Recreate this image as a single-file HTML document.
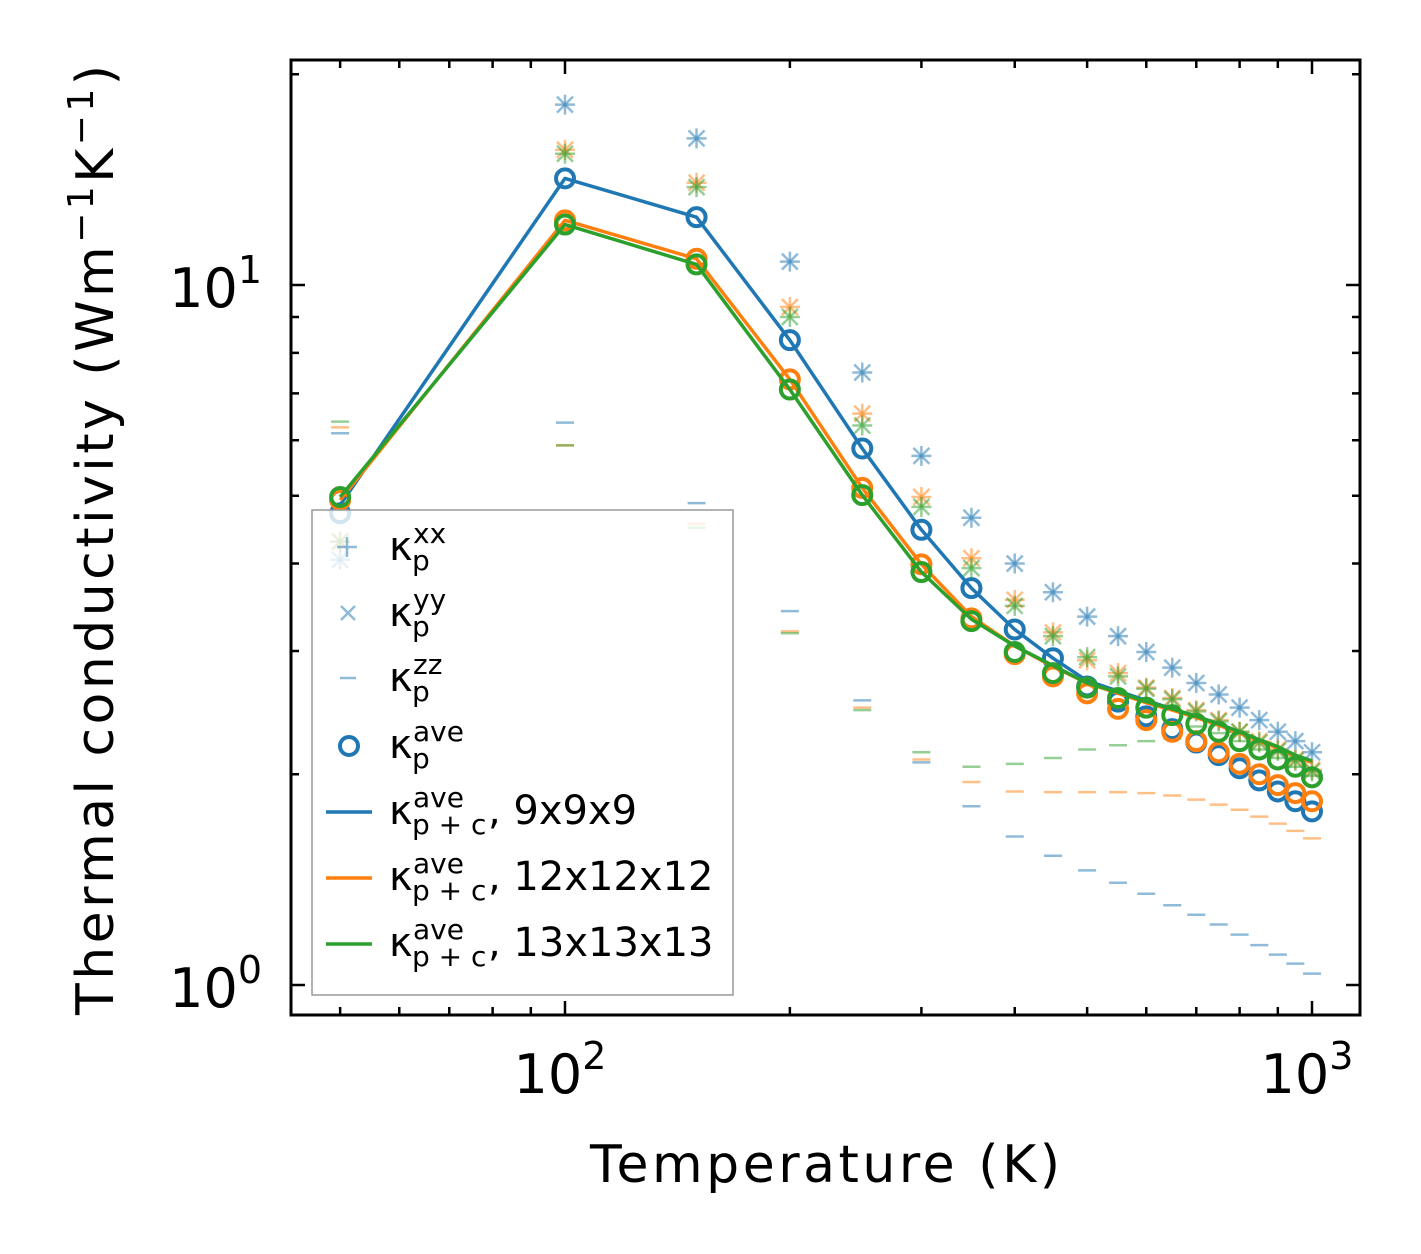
<!DOCTYPE html>
<html><head><meta charset="utf-8"><style>
body{margin:0;background:#fff}
svg{display:block;font-family:"DejaVu Sans","Liberation Sans",sans-serif}
</style></head><body>
<svg id="chart" width="1421" height="1254" viewBox="0 0 1421 1254">
<rect x="0" y="0" width="1421" height="1254" fill="#fff"/>
<g id="plot"></g>
<g id="axes"></g>
</svg>
<script>
const temps = [50,100,150,200,250,300,350,400,450,500,550,600,650,700,750,800,850,900,950,1000];
// kappa_p^ave circles per mesh
const aveBlue   = [4.72,14.2,12.5,8.34,5.84,4.47,3.69,3.22,2.93,2.67,2.54,2.42,2.32,2.22,2.13,2.04,1.96,1.89,1.83,1.77];
const aveOrange = [4.93,12.37,10.9,7.33,5.13,3.99,3.34,2.97,2.76,2.61,2.48,2.39,2.30,2.23,2.15,2.07,2.00,1.93,1.88,1.83];
const aveGreen  = [4.98,12.2,10.7,7.09,5.01,3.89,3.31,2.99,2.79,2.66,2.57,2.49,2.43,2.36,2.30,2.23,2.17,2.10,2.05,1.98];
// kappa_p+c^ave lines
const pcBlue   = [4.85,14.2,12.5,8.34,5.84,4.47,3.69,3.22,2.93,2.72,2.63,2.55,2.48,2.42,2.36,2.30,2.24,2.18,2.12,2.08];
const pcOrange = [4.93,12.37,10.9,7.33,5.13,3.99,3.36,3.05,2.85,2.70,2.61,2.53,2.47,2.41,2.35,2.29,2.23,2.18,2.12,2.08];
const pcGreen  = [4.98,12.2,10.7,7.09,5.01,3.89,3.33,3.05,2.86,2.70,2.62,2.54,2.48,2.42,2.36,2.30,2.24,2.19,2.13,2.09];
// directional components
const xxBlue   = [4.05,18.1,16.2,10.8,7.5,5.7,4.65,4.0,3.64,3.36,3.15,2.99,2.84,2.70,2.60,2.49,2.39,2.30,2.23,2.15];
const xxOrange = [4.3,15.6,14.0,9.3,6.55,4.98,4.07,3.55,3.19,2.91,2.79,2.66,2.57,2.47,2.39,2.30,2.23,2.17,2.10,2.03];
const xxGreen  = [4.3,15.4,13.8,9.0,6.3,4.82,3.94,3.48,3.15,2.94,2.76,2.65,2.56,2.46,2.38,2.30,2.22,2.16,2.09,2.02];
const zzBlue   = [6.14,6.36,4.88,3.42,2.55,2.08,1.80,1.63,1.53,1.458,1.40,1.35,1.30,1.26,1.22,1.18,1.14,1.105,1.073,1.038];
const zzOrange = [6.26,5.9,4.56,3.2,2.49,2.10,1.95,1.89,1.886,1.886,1.886,1.88,1.865,1.84,1.81,1.78,1.74,1.70,1.66,1.62];
const zzGreen  = [6.38,5.9,4.5,3.18,2.47,2.15,2.05,2.07,2.11,2.17,2.20,2.23,2.25,2.34,2.29,2.23,2.17,2.11,2.05,1.99];
const xMajor = [100,1000];
const xMajorLabels = ["2","3"];
const xMinor = [50,60,70,80,90,200,300,400,500,600,700,800,900];
const yMajor = [1,10];
const yMajorLabels = ["0","1"];
const yMinor = [2,3,4,5,6,7,8,9,20];

const NS="http://www.w3.org/2000/svg";
const L=291,R=1360,T=60,B=1015;
const xs = v => 565 + 747*(Math.log10(v)-2);
const ys = v => 985 - 700*Math.log10(v);
function mk(tag,attrs,parent){const e=document.createElementNS(NS,tag);for(const k in attrs)e.setAttribute(k,attrs[k]);parent.appendChild(e);return e;}
const plot=document.getElementById('plot'), axes=document.getElementById('axes');
const C={b:'#1f77b4',o:'#ff7f0e',g:'#2ca02c'};

function plus(g,x,y,c,s){mk('path',{d:`M${x-s} ${y}H${x+s}M${x} ${y-s}V${y+s}`,stroke:c,'stroke-width':2.5,'stroke-opacity':0.5,fill:'none'},g);}
function cross(g,x,y,c,s){mk('path',{d:`M${x-s} ${y-s}L${x+s} ${y+s}M${x-s} ${y+s}L${x+s} ${y-s}`,stroke:c,'stroke-width':2.5,'stroke-opacity':0.5,fill:'none'},g);}
function dash(g,x,y,c,s){mk('path',{d:`M${x-s} ${y}H${x+s}`,stroke:c,'stroke-width':2.5,'stroke-opacity':0.5,fill:'none'},g);}

const clip=mk('clipPath',{id:'pc'},document.getElementById('chart'));
mk('rect',{x:L,y:T,width:R-L,height:B-T},clip);
plot.setAttribute('clip-path','url(#pc)');

[['b',xxBlue,zzBlue],['o',xxOrange,zzOrange],['g',xxGreen,zzGreen]].forEach(([k,xx,zz])=>{
  const g=mk('g',{},plot);
  
  
  temps.forEach((t,i)=>{plus(g,xs(t),ys(xx[i]),C[k],10);cross(g,xs(t),ys(xx[i]),C[k],8);dash(g,xs(t),ys(zz[i]),C[k],9);});
});
[['b',pcBlue,aveBlue],['o',pcOrange,aveOrange],['g',pcGreen,aveGreen]].forEach(([k,pc,av])=>{
  const p=mk('polyline',{points:temps.map((t,i)=>xs(t)+','+ys(pc[i])).join(' '),fill:'none',stroke:C[k],'stroke-width':3.5,'stroke-linejoin':'round'},plot);
  
  
  const g=mk('g',{},plot);
  
  
  temps.forEach((t,i)=>mk('circle',{cx:xs(t),cy:ys(av[i]),r:9,fill:'none',stroke:C[k],'stroke-width':4},g));
});

const fr=mk('rect',{x:L,y:T,width:R-L,height:B-T,fill:'none',stroke:'#000','stroke-width':3},axes);


let d='';
xMajor.forEach(v=>{const x=xs(v);d+=`M${x} ${B}v-14M${x} ${T}v14`;});
xMinor.forEach(v=>{const x=xs(v);d+=`M${x} ${B}v-8M${x} ${T}v8`;});
yMajor.forEach(v=>{const y=ys(v);d+=`M${L} ${y}h14M${R} ${y}h-14`;});
yMinor.forEach(v=>{const y=ys(v);d+=`M${L} ${y}h8M${R} ${y}h-8`;});
const tk=mk('path',{d,stroke:'#000','stroke-width':2.5,fill:'none'},axes);



xMajor.forEach((v,i)=>{
  const t=mk('text',{x:xs(v)-5,y:1093,'font-size':54,'text-anchor':'middle'},axes);
  
  
  t.innerHTML=`10<tspan dy="-24" font-size="38">${xMajorLabels[i]}</tspan>`;
});
yMajor.forEach((v,i)=>{
  const t=mk('text',{x:262,y:ys(v)+22,'font-size':54,'text-anchor':'end'},axes);
  
  
  t.innerHTML=`10<tspan dy="-24" font-size="38">${yMajorLabels[i]}</tspan>`;
});
</script>
<svg style="position:absolute;left:0;top:0" width="1421" height="1254" viewBox="0 0 1421 1254" font-family="DejaVu Sans, Liberation Sans, sans-serif">
<text x="825" y="1182" font-size="52" text-anchor="middle" textLength="470">Temperature (K)</text>
<text transform="translate(113,540) rotate(-90)" font-size="52" text-anchor="middle" textLength="950">Thermal conductivity (Wm<tspan dy="-20" font-size="36">−1</tspan><tspan dy="20">K</tspan><tspan dy="-20" font-size="36">−1</tspan><tspan dy="20">)</tspan></text>
<g>
<rect x="312" y="510" width="421" height="485" fill="#fff" fill-opacity="0.8" stroke="#999" stroke-width="1.5"/>
<g><path d="M337 547H357M347 537V557" stroke="#1f77b4" stroke-opacity="0.5" stroke-width="2.5"/>
<text x="389" y="560" font-size="40">κ</text><text x="412" y="570" font-size="28">p</text><text x="413" y="543" font-size="28">xx</text></g>
<g><path d="M341 606L355 620M341 620L355 606" stroke="#1f77b4" stroke-opacity="0.5" stroke-width="2.5"/>
<text x="389" y="626" font-size="40">κ</text><text x="412" y="636" font-size="28">p</text><text x="413" y="609" font-size="28">yy</text></g>
<g><path d="M340 678H356" stroke="#1f77b4" stroke-opacity="0.5" stroke-width="2.5"/>
<text x="389" y="691" font-size="40">κ</text><text x="412" y="701" font-size="28">p</text><text x="413" y="674" font-size="28">zz</text></g>
<g><circle cx="349" cy="746" r="9" fill="none" stroke="#1f77b4" stroke-width="4"/>
<text x="389" y="758" font-size="40">κ</text><text x="412" y="768" font-size="28">p</text><text x="413" y="741" font-size="28">ave</text></g>
<g><path d="M326 812H372" stroke="#1f77b4" stroke-width="3.5"/>
<text x="389" y="824" font-size="40">κ</text><text x="412" y="834" font-size="28">p + c</text><text x="413" y="807" font-size="28">ave</text><text x="488" y="824" font-size="40">, 9x9x9</text></g>
<g><path d="M326 878H372" stroke="#ff7f0e" stroke-width="3.5"/>
<text x="389" y="890" font-size="40">κ</text><text x="412" y="900" font-size="28">p + c</text><text x="413" y="873" font-size="28">ave</text><text x="488" y="890" font-size="40">, 12x12x12</text></g>
<g><path d="M326 944H372" stroke="#2ca02c" stroke-width="3.5"/>
<text x="389" y="956" font-size="40">κ</text><text x="412" y="966" font-size="28">p + c</text><text x="413" y="939" font-size="28">ave</text><text x="488" y="956" font-size="40">, 13x13x13</text></g>
</g>
</svg>
</body></html>
